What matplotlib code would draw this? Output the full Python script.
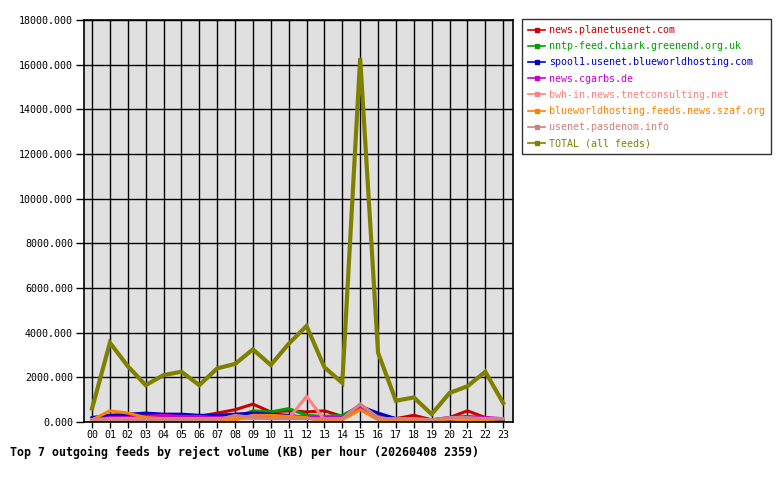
import matplotlib
matplotlib.use("Agg")
import matplotlib.pyplot as plt
from matplotlib.lines import Line2D

hours = ["%02d" % h for h in range(24)]

feeds = [
    "news.planetusenet.com",
    "nntp-feed.chiark.greenend.org.uk",
    "spool1.usenet.blueworldhosting.com",
    "news.cgarbs.de",
    "bwh-in.news.tnetconsulting.net",
    "blueworldhosting.feeds.news.szaf.org",
    "usenet.pasdenom.info",
    "TOTAL (all feeds)",
]
colors = ["#cc0000", "#00a000", "#0000cc", "#cc00cc", "#ff8080", "#ff8000", "#cc8080", "#808000"]

planetusenet = [150, 250, 300, 300, 300, 300, 250, 400, 550, 800, 450, 500,
                450, 500, 250, 750, 300, 150, 300, 100, 200, 500, 200, 50]
chiark = [100, 150, 200, 200, 200, 200, 200, 200, 200, 500, 450, 600,
          300, 250, 300, 700, 250, 100, 150, 100, 150, 200, 150, 100]
spool1 = [200, 300, 350, 400, 350, 350, 300, 300, 350, 400, 350, 300,
          200, 200, 200, 700, 400, 150, 100, 50, 100, 100, 50, 0]
cgarbs = [100, 200, 200, 250, 300, 250, 250, 200, 200, 250, 250, 250,
          200, 200, 200, 650, 200, 100, 150, 50, 200, 250, 200, 150]
tnetconsulting = [100, 150, 150, 150, 150, 150, 150, 150, 150, 150, 150, 150,
                  1150, 100, 150, 800, 200, 100, 100, 100, 150, 150, 150, 150]
szaf = [100, 500, 400, 200, 150, 150, 150, 100, 100, 300, 300, 250,
        200, 0, 100, 550, 100, 50, 50, 50, 0, 50, 100, 150]
pasdenom = [100, 100, 100, 100, 100, 100, 100, 100, 300, 200, 150, 150,
            150, 150, 150, 800, 150, 150, 150, 100, 200, 200, 150, 150]
total = [600, 3550, 2500, 1650, 2100, 2250, 1650, 2400, 2600, 3250, 2550, 3500,
         4300, 2450, 1750, 16300, 3100, 950, 1100, 350, 1300, 1600, 2250, 850]

series = [planetusenet, chiark, spool1, cgarbs, tnetconsulting, szaf, pasdenom, total]

mono = "DejaVu Sans Mono"

fig = plt.figure(figsize=(7.8, 4.8), dpi=100)
ax = fig.add_axes([84 / 780, 58 / 480, 429 / 780, 402 / 480])
ax.set_facecolor("#e0e0e0")

x = list(range(24))
for name, vals, col in zip(feeds, series, colors):
    lw = 3.0 if name.startswith("TOTAL") else 2.2
    ax.plot(x, vals, color=col, linewidth=lw, solid_joinstyle="miter")

ax.set_xlim(-0.45, 23.55)
ax.set_ylim(0, 18000)
ax.set_xticks(x)
ax.set_xticklabels(hours, fontfamily=mono, fontsize=7.2)
ax.set_yticks(range(0, 18001, 2000))
ax.set_yticklabels(["%.3f" % v for v in range(0, 18001, 2000)], fontfamily=mono, fontsize=7.2)
ax.grid(True, color="black", linewidth=1.0)
ax.set_axisbelow(True)
ax.tick_params(axis="y", length=6, width=1, pad=2)
ax.tick_params(axis="x", length=4, width=1, pad=2)
for s in ax.spines.values():
    s.set_linewidth(1.2)

# legend proxies: thin line with a small marker in the middle
handles = [Line2D([], [], color=c, linewidth=1.2, marker="s", markersize=2.5) for c in colors]
leg = fig.legend(handles, feeds, loc="upper left", bbox_to_anchor=(522 / 780, 1 - 19 / 480),
                 prop={"family": mono, "size": 7.2}, frameon=True, fancybox=False,
                 handlelength=1.7, handletextpad=0.4, labelspacing=0.62,
                 borderpad=0.6, borderaxespad=0, numpoints=1)
leg.get_frame().set_edgecolor("black")
leg.get_frame().set_linewidth(1.0)
for txt, col in zip(leg.get_texts(), colors):
    txt.set_color(col)

fig.text(10 / 780, 1 - 452 / 480, "Top 7 outgoing feeds by reject volume (KB) per hour (20260408 2359)",
         fontfamily=mono, fontweight="bold", fontsize=8.35, va="center", ha="left")

fig.savefig("out.png", dpi=100, facecolor="white")
